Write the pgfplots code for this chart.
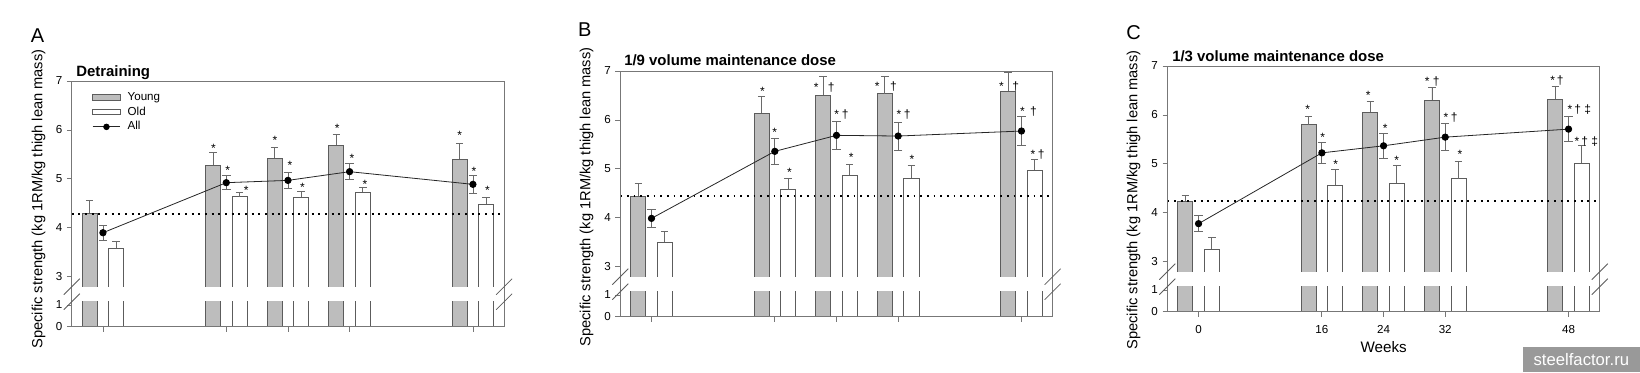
\documentclass[border=0pt]{standalone}
\usepackage{fontspec}
\setmainfont{Liberation Sans}
\usepackage{pgfplots}
\usepackage{pgfplotstable}
\pgfplotsset{compat=1.18}

\definecolor{youngc}{HTML}{BDBDBD}
\definecolor{edgec}{HTML}{5C5C5C}
\definecolor{framec}{HTML}{777777}
\definecolor{errc}{HTML}{6A6A6A}

% Panel data: wk = weeks, y/ye Young, o/oe Old, a/ae All
\pgfplotstableread{
wk y ye o oe a ae
0 4.295 0.265 3.579 0.143 3.899 0.157
16 5.283 0.259 4.635 0.089 4.922 0.143
24 5.419 0.232 4.622 0.122 4.969 0.164
32 5.692 0.218 4.724 0.095 5.147 0.163
48 5.399 0.327 4.479 0.143 4.888 0.190
}\tabA
\pgfplotstableread{
wk y ye o oe a ae
0 4.445 0.252 3.504 0.225 3.988 0.177
16 6.135 0.354 4.574 0.239 5.358 0.272
24 6.509 0.375 4.867 0.232 5.685 0.286
32 6.537 0.361 4.813 0.252 5.671 0.286
48 6.591 0.375 4.969 0.232 5.773 0.293
}\tabB
\pgfplotstableread{
wk y ye o oe a ae
0 4.235 0.123 3.253 0.238 3.778 0.164
16 5.799 0.170 4.570 0.314 5.225 0.219
24 6.051 0.232 4.604 0.369 5.369 0.259
32 6.304 0.259 4.700 0.348 5.546 0.273
48 6.324 0.260 5.014 0.361 5.710 0.259
}\tabC

\pgfplotstableread[col sep=comma]{
x,y,lab
14.35,5.63,*
16.2,5.18,*
18.6,4.76,*
22.3,5.79,*
24.26,5.27,*
25.9,4.82,*
30.4,6.03,*
32.3,5.42,*
34.0,4.89,*
46.3,5.88,*
48.15,5.16,*
49.9,4.76,*
}\labA
\pgfplotstableread[col sep=comma]{
x,y,lab
14.4,6.58,*
16.0,5.74,*
17.9,4.93,*
22.4,6.66,*\hspace{7pt}†
24.65,6.10,*\hspace{2pt}†
25.9,5.23,*
30.4,6.69,*\hspace{8pt}†
32.7,6.12,*\hspace{2pt}†
33.8,5.20,*
46.4,6.69,*\hspace{6.5pt}†
48.9,6.17,*\hspace{4pt}†
50.1,5.29,*\hspace{2pt}†
}\labB
\pgfplotstableread[col sep=comma]{
x,y,lab
14.15,6.12,*
16.1,5.54,*
17.8,4.98,*
22.0,6.40,*
24.2,5.73,*
25.7,5.07,*
30.3,6.69,*\hspace{2.5pt}†
32.7,5.94,*\hspace{2pt}†
33.9,5.19,*
46.5,6.71,*\hspace{1.5pt}†
49.4,6.10,*\hspace{1.5pt}†\hspace{2.5pt}‡
50.3,5.45,*\hspace{1.5pt}†\hspace{2.5pt}‡
}\labC

\newcommand{\tickfont}{\fontsize{8.7}{10}\selectfont}

\pgfplotsset{
  panel/.style={scale only axis, width=324.3pt, xmin=-4.05, xmax=52.05,
    axis line style={draw=none}, tick align=outside, major tick length=3.6pt,
    tick style={framec, line width=0.6pt}, ytick pos=left, xtick pos=left,
    /pgf/number format/assume math mode=true,
    ticklabel style={font=\tickfont}},
  % upper part: cut at 2.796; extra strip 2.6..2.796 is painted white
  upper/.style={panel, height=161.47pt, ymin=2.6, ymax=7,
    ytick={3,4,5,6,7}, xtick=\empty},
  lower/.style={panel, height=18.75pt, ymin=0, ymax=1.15,
    ytick={0,1}, xtick={0,16,24,32,48}},
  youngbar/.style={ybar, bar width=1.95, bar shift=0, fill=youngc, draw=edgec, line width=0.6pt},
  oldbar/.style={ybar, bar width=1.95, bar shift=0, fill=white, draw=edgec, line width=0.6pt},
  barerr/.style={error bars/.cd, y dir=plus, y explicit,
    error bar style={errc, line width=0.6pt},
    error mark options={rotate=90, errc, mark size=2.8pt, line width=0.6pt}},
  allline/.style={black!85, line width=0.6pt, mark=*, mark size=2.4pt,
    mark options={fill=black, draw=black},
    error bars/.cd, y dir=both, y explicit,
    error bar style={errc, line width=0.6pt},
    error mark options={rotate=90, errc, mark size=3.2pt, line width=0.6pt}},
  dottedref/.style={black, line width=1.4pt, dash pattern=on 1.4pt off 3.6pt},
  annot/.style={draw=none, mark=none, nodes near coords, point meta=explicit symbolic,
    nodes near coords style={font=\fontsize{9}{10}\selectfont, inner sep=0pt, anchor=center}},
}

\begin{document}
\begin{tikzpicture}
\useasboundingbox (0,0) rectangle (1230pt,279pt);

% ================= Panel A =================
\begin{axis}[upper, name=uA, at={(53.8pt,56.78pt)}, anchor=south west,
  legend cell align=left,
  legend style={at={(axis description cs:0.047,1)}, yshift=-6.9pt, anchor=north west,
    draw=none, fill=none, inner sep=0pt, font=\tickfont, row sep=1.4pt,
    nodes={inner sep=0.8pt, text height=6.4pt, text depth=1.8pt}}]
  \addplot[legend image code/.code={\draw[fill=youngc, draw=edgec, line width=0.6pt] (0pt,-2.2pt) rectangle (20.6pt,2.2pt);},
    youngbar, barerr]
    table[x expr=\thisrow{wk}-1.72, y=y, y error=ye] {\tabA};
  \addlegendentry{\hspace{4.5pt}Young}
  \addplot[legend image code/.code={\draw[fill=white, draw=edgec, line width=0.6pt] (0pt,-2.2pt) rectangle (20.6pt,2.2pt);},
    oldbar, barerr]
    table[x expr=\thisrow{wk}+1.72, y=o, y error=oe] {\tabA};
  \addlegendentry{\hspace{4.5pt}Old}
  \fill[white] (axis cs:-4.05,2.5) rectangle (axis cs:52.05,2.796);
  \coordinate (cutLA) at (axis cs:-4.05,2.796);
  \coordinate (cutRA) at (axis cs:52.05,2.796);
  \addplot[dottedref, forget plot] coordinates {(-4.05,4.288) (52.05,4.288)};
  \addplot[legend image code/.code={\draw[black!85, line width=0.6pt] (0pt,0pt) -- (20.6pt,0pt); \fill[black] (10.3pt,0pt) circle (2.1pt);},
    allline]
    table[x=wk, y=a, y error=ae] {\tabA};
  \addlegendentry{\hspace{4.5pt}All}
  \addplot[forget plot, annot] table[x=x, y=y, meta=lab] {\labA};
\end{axis}
\begin{axis}[lower, name=lA, at={(53.8pt,33.975pt)}, anchor=south west, xticklabels={,,,,}]
  \addplot[youngbar] table[x expr=\thisrow{wk}-1.72, y=y] {\tabA};
  \addplot[oldbar] table[x expr=\thisrow{wk}+1.72, y=o] {\tabA};
\end{axis}

% ================= Panel B =================
\begin{axis}[upper, name=uB, at={(465.2pt,64.28pt)}, anchor=south west]
  \addplot[youngbar, barerr] table[x expr=\thisrow{wk}-1.72, y=y, y error=ye] {\tabB};
  \addplot[oldbar, barerr] table[x expr=\thisrow{wk}+1.72, y=o, y error=oe] {\tabB};
  \fill[white] (axis cs:-4.05,2.5) rectangle (axis cs:52.05,2.796);
  \coordinate (cutLB) at (axis cs:-4.05,2.796);
  \coordinate (cutRB) at (axis cs:52.05,2.796);
  \addplot[dottedref] coordinates {(-4.05,4.445) (52.05,4.445)};
  \addplot[allline] table[x=wk, y=a, y error=ae] {\tabB};
  \addplot[annot] table[x=x, y=y, meta=lab] {\labB};
\end{axis}
\begin{axis}[lower, name=lB, at={(465.2pt,41.475pt)}, anchor=south west, xticklabels={,,,,}]
  \addplot[youngbar] table[x expr=\thisrow{wk}-1.72, y=y] {\tabB};
  \addplot[oldbar] table[x expr=\thisrow{wk}+1.72, y=o] {\tabB};
\end{axis}

% ================= Panel C =================
\begin{axis}[upper, name=uC, at={(875.5pt,68.03pt)}, anchor=south west]
  \addplot[youngbar, barerr] table[x expr=\thisrow{wk}-1.72, y=y, y error=ye] {\tabC};
  \addplot[oldbar, barerr] table[x expr=\thisrow{wk}+1.72, y=o, y error=oe] {\tabC};
  \fill[white] (axis cs:-4.05,2.5) rectangle (axis cs:52.05,2.796);
  \coordinate (cutLC) at (axis cs:-4.05,2.796);
  \coordinate (cutRC) at (axis cs:52.05,2.796);
  \addplot[dottedref] coordinates {(-4.05,4.235) (52.05,4.235)};
  \addplot[allline] table[x=wk, y=a, y error=ae] {\tabC};
  \addplot[annot] table[x=x, y=y, meta=lab] {\labC};
\end{axis}
\begin{axis}[lower, name=lC, at={(875.5pt,45.225pt)}, anchor=south west,
  xticklabel style={yshift=-3pt}]
  \addplot[youngbar] table[x expr=\thisrow{wk}-1.72, y=y] {\tabC};
  \addplot[oldbar] table[x expr=\thisrow{wk}+1.72, y=o] {\tabC};
\end{axis}

% frames and axis breaks
\foreach \p in {A,B,C}{
  \draw[framec, line width=0.6pt] (l\p.south west) rectangle (u\p.north east);
  \draw[edgec, line width=0.6pt] (cutL\p) ++(-6pt,-6pt) -- ++(12pt,12pt);
  \draw[edgec, line width=0.6pt] (l\p.north west) ++(-6pt,-6pt) -- ++(12pt,12pt);
  \draw[edgec, line width=0.6pt] (cutR\p) ++(-6pt,-6pt) -- ++(12pt,12pt);
  \draw[edgec, line width=0.6pt] (l\p.north east) ++(-6pt,-6pt) -- ++(12pt,12pt);
}

% panel letters
\node[font=\fontsize{15}{18}\selectfont] at (28.1pt,252.4pt) {A};
\node[font=\fontsize{15}{18}\selectfont] at (438.5pt,256.5pt) {B};
\node[font=\fontsize{15}{18}\selectfont] at (850.2pt,254.6pt) {C};

% titles
\node[anchor=base west, inner sep=0pt, font=\fontsize{11.2}{13}\selectfont\bfseries] at (57pt,222pt) {Detraining};
\node[anchor=base west, inner sep=0pt, font=\fontsize{11.2}{13}\selectfont\bfseries] at (468pt,229.7pt) {1/9 volume maintenance dose};
\node[anchor=base west, inner sep=0pt, font=\fontsize{11.2}{13}\selectfont\bfseries] at (879pt,232.5pt) {1/3 volume maintenance dose};

% y labels
\node[rotate=90, font=\fontsize{11}{13}\selectfont] at (28.9pt,129.75pt) {Specific strength (kg 1RM/kg thigh lean mass)};
\node[rotate=90, font=\fontsize{11}{13}\selectfont] at (439.9pt,131.25pt) {Specific strength (kg 1RM/kg thigh lean mass)};
\node[rotate=90, font=\fontsize{11}{13}\selectfont] at (850.1pt,129pt) {Specific strength (kg 1RM/kg thigh lean mass)};

% x label
\node[font=\fontsize{11.4}{13}\selectfont] at (1037.7pt,19pt) {Weeks};

% watermark
\fill[gray!80] (1142.25pt,0pt) rectangle (1230pt,19pt);
\node[white, font=\fontsize{12.5}{14}\selectfont] at (1186pt,9pt) {steelfactor.ru};
\end{tikzpicture}
\end{document}
